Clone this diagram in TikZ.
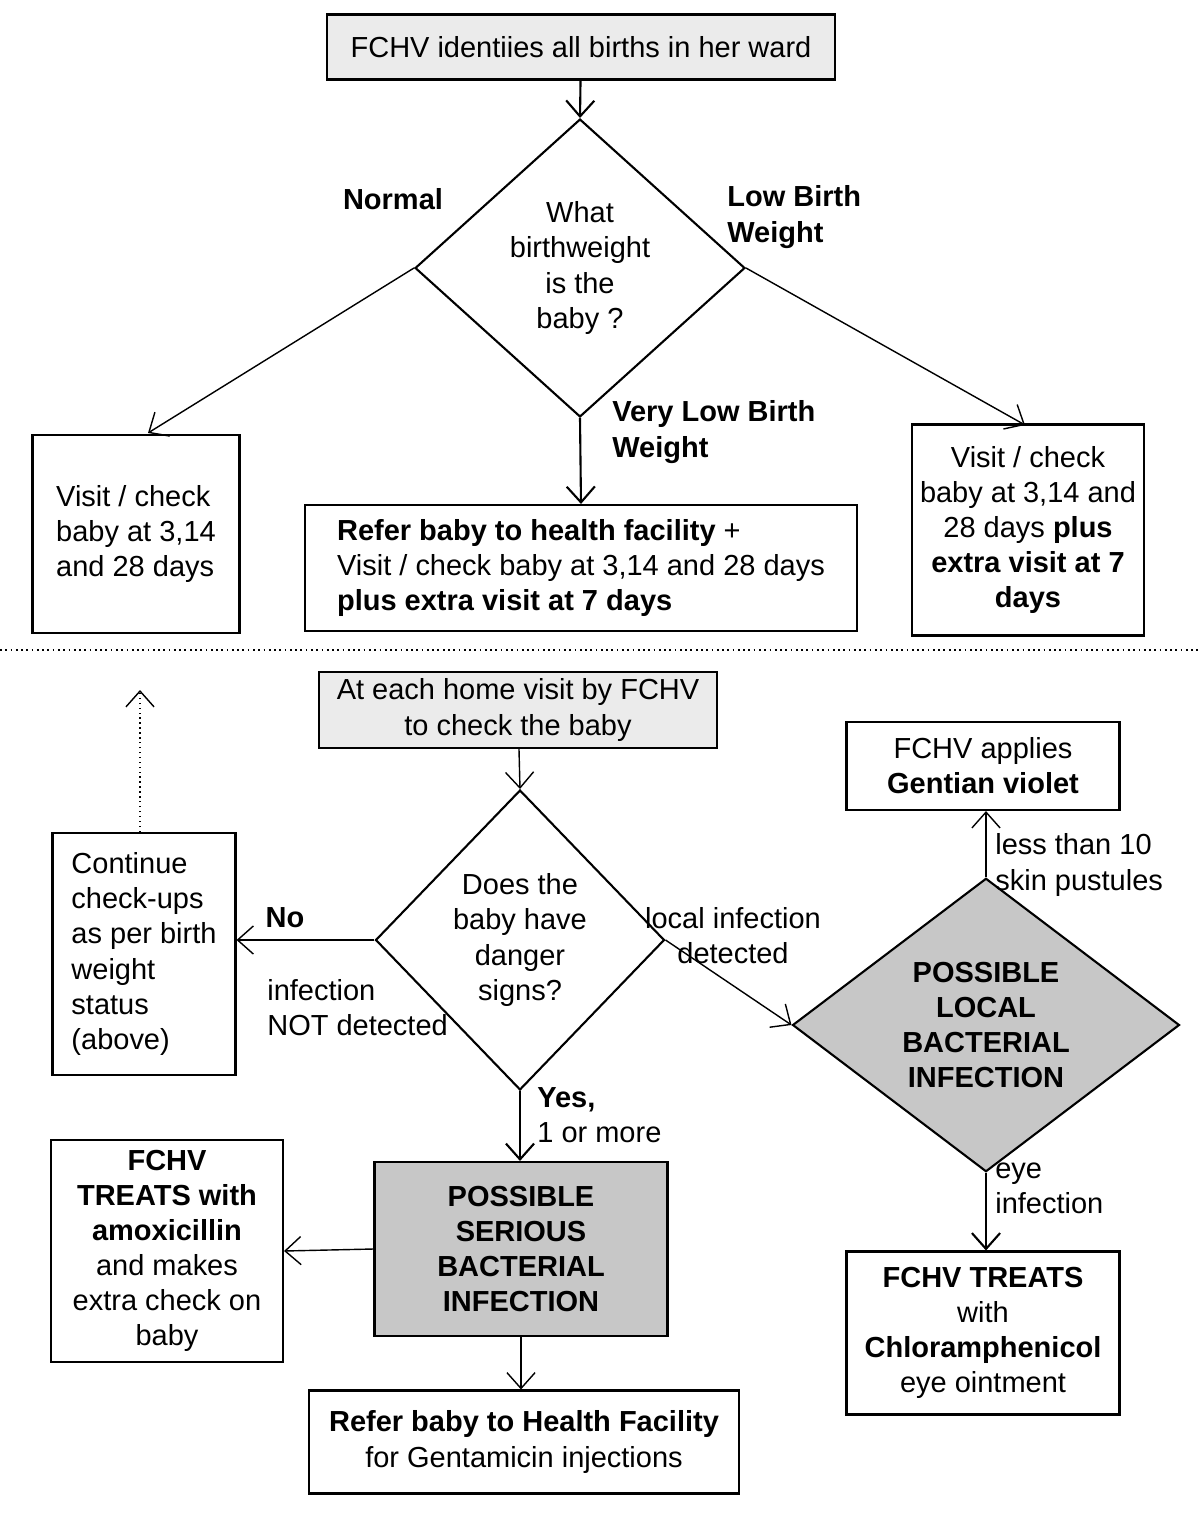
\documentclass[tikz,border=0pt]{standalone}
\usepackage{fontspec}
\setmainfont{Liberation Sans}
\usetikzlibrary{shapes.geometric,arrows.meta}

\tikzset{
  box/.style={draw, line width=1.2pt, align=center, inner sep=0pt},
  grey/.style={fill=black!8},
  dark/.style={fill=black!22},
  dia/.style={draw, diamond, line width=1.2pt, align=center, inner sep=0pt},
  arr/.style={-{Straight Barb[length=9pt,width=16pt]}, line width=1.2pt},
  thinarr/.style={-{Straight Barb[length=9pt,width=16pt]}, line width=0.8pt},
  lbl/.style={align=left, inner sep=0pt}
}

\begin{document}
\begin{tikzpicture}[x=0.02cm, y=-0.02cm, font=\fontsize{16.5}{20}\selectfont]
  \useasboundingbox (0,0) rectangle (1200,1522);

  % Birth weight part
  \node[box, grey, minimum width=10.16cm, minimum height=1.3cm] (births) at (581,47) {FCHV identiies all births in her ward};
  \node[dia, minimum width=6.6cm, minimum height=5.96cm] (weight) at (580,268) {What\\birthweight\\is the\\baby ?};
  \node[box, minimum width=4.14cm, minimum height=3.96cm, align=left] (normal) at (136,534) {Visit / check\\baby at 3,14\\and 28 days};
  \node[box, minimum width=11.04cm, minimum height=2.52cm, align=left] (vlbw) at (581,568) {\textbf{Refer baby to health facility} +\\Visit / check baby at 3,14 and 28 days\\\textbf{plus extra visit at 7 days}};
  \node[box, minimum width=4.64cm, minimum height=4.22cm] (lbw) at (1028,530) {Visit / check\\baby at 3,14 and\\28 days \textbf{plus}\\\textbf{extra visit at 7}\\\textbf{days}};

  \draw[arr] (births) -- (weight.north);
  \draw[thinarr] (weight.west) -- (148,433);
  \draw[thinarr] (weight.east) -- (1025,425);
  \draw[arr] (weight.south) -- (vlbw.north);

  \node[lbl, font=\fontsize{16.5}{20}\selectfont\bfseries] (lnormal) at (393,199) {Normal};
  \node[lbl, font=\fontsize{16.5}{20}\selectfont\bfseries, anchor=west] (llbw) at (727,217) {Low Birth\\Weight};
  \node[lbl, font=\fontsize{16.5}{20}\selectfont\bfseries, anchor=west] (lvlbw) at (612,432) {Very Low Birth\\Weight};

  \draw[dotted, line width=1pt] (0,650) -- (1200,650);

  % Home visit part
  \node[box, grey, minimum width=7.96cm, minimum height=1.52cm] (visit) at (518,710) {At each home visit by FCHV\\to check the baby};
  \node[dia, minimum width=5.78cm, minimum height=6cm] (danger) at (520,940) {Does the\\baby have\\danger\\signs?};
  \node[box, minimum width=3.66cm, minimum height=4.84cm, align=left] (continue) at (144,954) {Continue\\check-ups\\as per birth\\weight\\status\\(above)};
  \node[box, minimum width=5.46cm, minimum height=1.76cm] (gentian) at (983,766) {FCHV applies\\\textbf{Gentian violet}};
  \node[dia, dark, minimum width=7.74cm, minimum height=5.04cm, font=\fontsize{16.5}{20}\selectfont\bfseries] (local) at (986,1025) {POSSIBLE\\LOCAL\\BACTERIAL\\INFECTION};
  \node[box, dark, minimum width=5.86cm, minimum height=3.48cm, font=\fontsize{16.5}{20}\selectfont\bfseries] (serious) at (521,1249) {POSSIBLE\\SERIOUS\\BACTERIAL\\INFECTION};
  \node[box, minimum width=4.64cm, minimum height=4.44cm] (amox) at (167,1251) {\textbf{FCHV}\\\textbf{TREATS with}\\\textbf{amoxicillin}\\and makes\\extra check on\\baby};
  \node[box, minimum width=8.6cm, minimum height=2.06cm] (refer) at (524,1442) {\textbf{Refer baby to Health Facility}\\for Gentamicin injections};
  \node[box, minimum width=5.46cm, minimum height=3.26cm] (chloram) at (983,1333) {\textbf{FCHV TREATS}\\with\\\textbf{Chloramphenicol}\\eye ointment};
  \coordinate (back) at (140,690);

  \draw[thinarr] (visit) -- (danger.north);
  \draw[thinarr, dotted] (continue.north -| back) -- (back);
  \draw[thinarr] (danger.west) -- (continue.east |- danger.west);
  \draw[thinarr] (danger.east) -- (local.west);
  \draw[thinarr] (local.north) -- (gentian.south -| local.north);
  \draw[arr] (local.south) -- (chloram.north -| local.south);
  \draw[arr] (danger.south) -- (serious.north -| danger.south);
  \draw[thinarr] (serious.west) -- (amox.east);
  \draw[thinarr] (serious.south) -- (refer.north -| serious.south);

  \node[lbl, font=\fontsize{16.5}{20}\selectfont\bfseries] (lno) at (285,918) {No};
  \node[lbl, anchor=west] (lnot) at (267,1008) {infection\\NOT detected};
  \node[lbl, align=center] (llocal) at (733,936) {local infection\\detected};
  \node[lbl, anchor=west] (lless) at (995,865) {less than 10\\skin pustules};
  \node[lbl, anchor=west] (leye) at (995,1188) {eye\\infection};
  \node[lbl, anchor=west] (lyes) at (537,1115) {\textbf{Yes,}\\1 or more};
\end{tikzpicture}
\end{document}
